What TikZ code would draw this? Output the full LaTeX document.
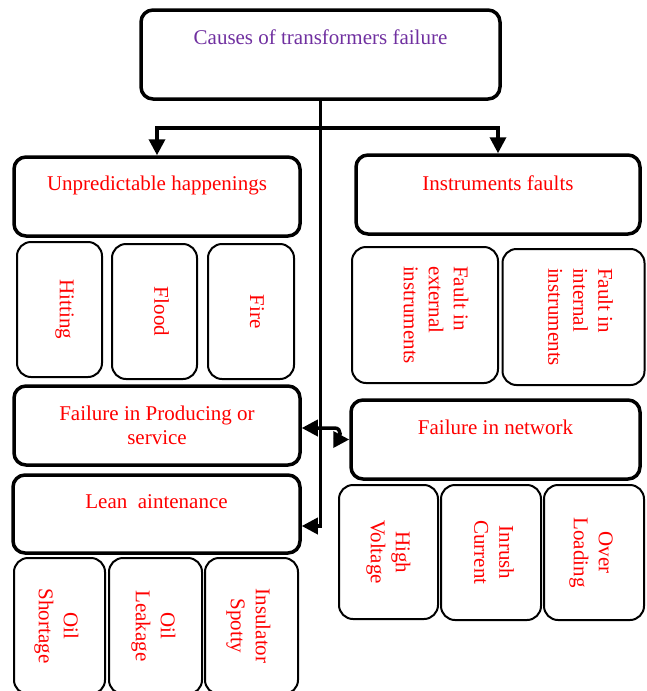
\documentclass[tikz,border=0pt]{standalone}
\usepackage{fontspec}
\setmainfont{Liberation Serif}
\usetikzlibrary{arrows.meta}
\definecolor{causepurple}{RGB}{112,48,160}
\tikzset{
  mainbox/.style={draw, line width=3.5pt, rounded corners=12pt},
  subbox/.style={draw, line width=2pt, rounded corners=14pt},
  cause/.style={text=red, align=center, font=\fontsize{21}{24}\selectfont},
  subcause/.style={cause, rotate=-90, font=\fontsize{21}{25}\selectfont},
  tip/.tip={Triangle[length=16pt,width=16pt]},
  conn/.style={line width=3.5pt, -tip},
}
\begin{document}
\begin{tikzpicture}[x=1pt, y=-1pt]
    \useasboundingbox (0,0) rectangle (646,691);

    % Main boxes
    \node[mainbox, minimum width=359pt, minimum height=89pt] (top) at (320.5,54.5) {};
    \node[mainbox, minimum width=286pt, minimum height=79pt] (unpred) at (157,196.5) {};
    \node[mainbox, minimum width=284pt, minimum height=79pt] (instr) at (498,194.5) {};
    \node[mainbox, minimum width=286pt, minimum height=79pt] (prod) at (157,425.5) {};
    \node[mainbox, minimum width=289pt, minimum height=79pt] (net) at (495.5,439.5) {};
    \node[mainbox, minimum width=287pt, minimum height=78pt] (lean) at (156.5,514) {};

    \node[cause, text=causepurple] (toptext) at ([yshift=17pt]top.center) {Causes of transformers failure};
    \node[cause] (unpredtext) at ([yshift=11pt]unpred.center) {Unpredictable happenings};
    \node[cause] (instrtext) at ([yshift=11pt]instr.center) {Instruments faults};
    \node[cause] (prodtext) at (prod.center) {Failure in Producing or\\service};
    \node[cause] (nettext) at ([yshift=12pt]net.center) {Failure in network};
    \node[cause] (leantext) at ([yshift=12pt]lean.center) {Lean\ \ aintenance};

    % Small boxes
    \node[subbox, minimum width=85pt, minimum height=135pt] (hit) at (59.5,309.5) {};
    \node[subbox, minimum width=85pt, minimum height=135pt] (flood) at (154.5,311.5) {};
    \node[subbox, minimum width=86pt, minimum height=135pt] (fire) at (251,311.5) {};
    \node[subbox, minimum width=146pt, minimum height=136pt] (ext) at (425,315) {};
    \node[subbox, minimum width=142pt, minimum height=136pt] (int) at (573.5,317) {};
    \node[subbox, minimum width=99pt, minimum height=134pt] (hv) at (388.5,552) {};
    \node[subbox, minimum width=100pt, minimum height=135pt] (inrush) at (491,552.5) {};
    \node[subbox, minimum width=100pt, minimum height=135pt] (over) at (594,552.5) {};
    \node[subbox, minimum width=91pt, minimum height=136pt] (short) at (59.5,626) {};
    \node[subbox, minimum width=93pt, minimum height=136pt] (leak) at (155.5,626) {};
    \node[subbox, minimum width=93pt, minimum height=136pt] (spot) at (251.5,626) {};

    \node[subcause] (hittext) at ([xshift=5pt]hit.center) {Hitting};
    \node[subcause] (floodtext) at ([xshift=7pt]flood.center) {Flood};
    \node[subcause] (firetext) at ([xshift=6pt]fire.center) {Fire};
    \node[subcause, align=left] (exttext) at ([xshift=11pt]ext.center) {Fault in\\external\\instruments};
    \node[subcause, align=left] (inttext) at ([xshift=7pt]int.center) {Fault in\\internal\\instruments};
    \node[subcause] (hvtext) at (hv.center) {High\\Voltage};
    \node[subcause] (inrushtext) at ([xshift=3pt]inrush.center) {Inrush\\Current};
    \node[subcause] (overtext) at ([xshift=-3pt]over.center) {Over\\Loading};
    \node[subcause] (shorttext) at ([xshift=-3pt]short.center) {Oil\\Shortage};
    \node[subcause] (leaktext) at ([xshift=-2pt]leak.center) {Oil\\Leakage};
    \node[subcause] (spottext) at ([xshift=-3pt]spot.center) {Insulator\\Spotty};

    % Connectors
    \coordinate (split) at ([yshift=-27pt]top.south);
    \draw[conn] (top.south) |- ([yshift=-12pt]lean.east);
    \draw[conn] (split) -| (unpred.north);
    \draw[conn] (split) -| (instr.north);
    \draw[conn, tip-tip] ([yshift=-2.5pt]prod.east) -- ++(33,0) to[out=0, in=180] (net.west);

\end{tikzpicture}
\end{document}
